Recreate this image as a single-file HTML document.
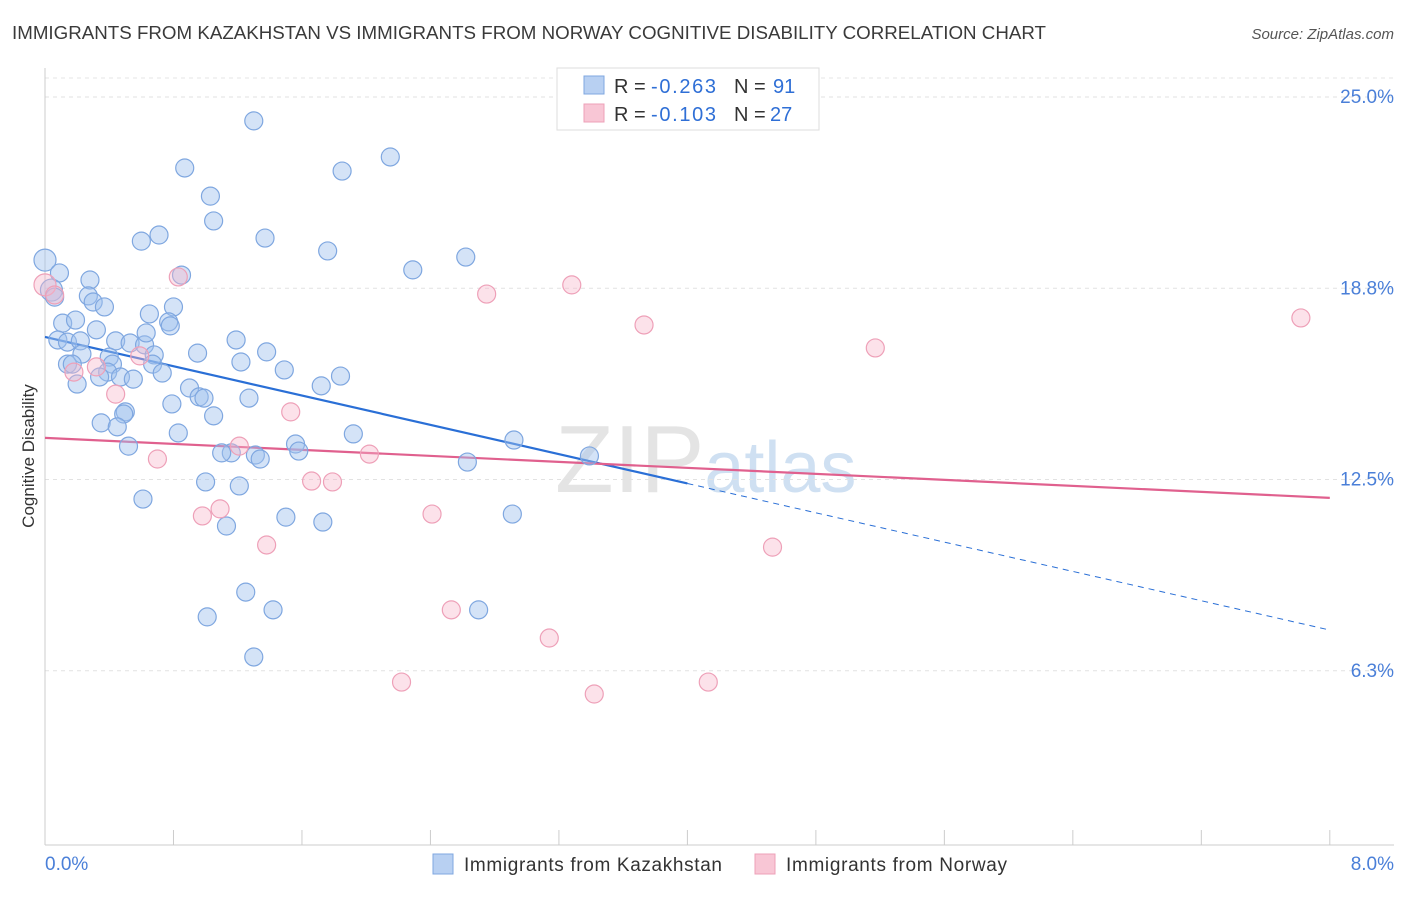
<!DOCTYPE html>
<html><head><meta charset="utf-8"><style>
body{margin:0;background:#fff;font-family:"Liberation Sans",sans-serif;}
svg text{font-family:"Liberation Sans",sans-serif;}
</style></head><body>
<svg id="chart" width="1406" height="892" xmlns="http://www.w3.org/2000/svg">
<text x="12" y="39" font-size="18" fill="#3a3a3a" textLength="1034" lengthAdjust="spacingAndGlyphs">IMMIGRANTS FROM KAZAKHSTAN VS IMMIGRANTS FROM NORWAY COGNITIVE DISABILITY CORRELATION CHART</text>
<text x="1394" y="39" font-size="15" fill="#555" text-anchor="end" font-style="italic">Source: ZipAtlas.com</text>
<text x="555" y="492" font-size="96" fill="#e4e4e4" font-family="Liberation Serif">ZIP<tspan fill="#cfe0f2" font-family="Liberation Sans" font-size="72">atlas</tspan></text>
<g id="grid"></g>
<g id="ticks"></g>
<g id="trend"></g>
<g id="pts"></g>
<text transform="translate(34,456) rotate(-90)" font-size="17" fill="#333" text-anchor="middle">Cognitive Disability</text>
<text x="45" y="870" font-size="19" fill="#4a7fd8">0.0%</text>
<text x="1394" y="870" font-size="19" fill="#4a7fd8" text-anchor="end">8.0%</text>
<g>
<rect x="557" y="68" width="262" height="62" fill="#fff" stroke="#ddd"/>
<rect x="584" y="76" width="20" height="18" fill="#b8d0f2" stroke="#7fa7e0"/>
<rect x="584" y="104" width="20" height="18" fill="#f8c6d5" stroke="#eea0b8"/>
<text x="614" y="93" font-size="20" fill="#333">R =</text>
<text x="651" y="93" font-size="20" fill="#2f6fd6" textLength="65">-0.263</text>
<text x="734" y="93" font-size="20" fill="#333">N =</text>
<text x="773" y="93" font-size="20" fill="#2f6fd6">91</text>
<text x="614" y="121" font-size="20" fill="#333">R =</text>
<text x="651" y="121" font-size="20" fill="#2f6fd6" textLength="65">-0.103</text>
<text x="734" y="121" font-size="20" fill="#333">N =</text>
<text x="770" y="121" font-size="20" fill="#2f6fd6">27</text>
</g>
<g>
<rect x="433" y="854" width="20" height="20" fill="#b8d0f2" stroke="#7fa7e0"/>
<text x="464" y="871" font-size="19" fill="#333" textLength="258">Immigrants from Kazakhstan</text>
<rect x="755" y="854" width="20" height="20" fill="#f8c6d5" stroke="#eea0b8"/>
<text x="786" y="871" font-size="19" fill="#333" textLength="221">Immigrants from Norway</text>
</g>
</svg>
<script>
const yTicks=[25,18.75,12.5,6.25];
const yTickLabels=["25.0%","18.8%","12.5%","6.3%"];
const xTicks=[0,0.8,1.6,2.4,3.2,4.0,4.8,5.6,6.4,7.2,8.0];
const blueX=[0.00,0.09,0.04,0.06,0.28,0.27,0.30,0.37,0.11,0.19,0.08,0.14,0.22,0.32,0.44,0.23,0.40,0.14,0.17,0.42,0.39,0.34,0.47,0.55,0.20,0.53,0.62,0.63,0.65,0.80,0.77,0.78,0.68,0.67,0.73,0.95,1.19,1.22,1.38,1.49,1.72,1.84,0.90,0.96,0.99,0.79,1.05,1.27,0.50,0.49,0.35,0.45,0.52,0.83,1.16,1.10,1.31,1.34,1.56,1.58,1.92,2.63,2.92,3.39,1.00,1.21,0.61,1.13,1.50,1.73,2.91,1.25,1.42,1.01,2.70,1.30,1.30,0.87,1.85,2.15,1.03,1.05,0.60,0.71,1.37,1.76,2.29,2.62,0.85];
const blueY=[19.67,19.25,18.69,18.46,19.02,18.50,18.30,18.14,17.61,17.71,17.06,16.99,17.03,17.39,17.03,16.60,16.50,16.27,16.27,16.27,16.01,15.85,15.85,15.78,15.62,16.96,16.90,17.29,17.91,18.14,17.65,17.52,16.57,16.27,15.98,16.63,17.06,16.34,16.67,16.08,15.56,15.88,15.49,15.20,15.16,14.97,14.58,15.16,14.71,14.64,14.35,14.22,13.59,14.02,13.37,13.37,13.30,13.17,13.66,13.43,13.99,13.07,13.79,13.27,12.42,12.29,11.86,10.98,11.27,11.11,11.37,8.82,8.24,8.01,8.24,6.70,24.22,22.68,22.58,23.04,21.76,20.95,20.29,20.49,20.39,19.97,19.35,19.77,19.18];
const pinkX=[0.00,0.06,0.83,0.18,0.32,0.44,0.59,0.70,2.75,3.28,3.73,5.17,7.82,1.53,1.21,2.02,1.66,1.79,0.98,1.09,2.41,1.38,2.53,3.14,2.22,3.42,4.13,4.53];
const pinkY=[18.86,18.53,19.12,16.01,16.18,15.29,16.54,13.17,18.56,18.86,17.55,16.80,17.78,14.71,13.59,13.33,12.45,12.42,11.31,11.54,11.37,10.36,8.24,7.32,5.88,5.49,5.88,10.29];
const blueTrend=[17.16,7.58];
const pinkTrend=[13.86,11.90];
const blueSolidEnd=4.0;
const NS="http://www.w3.org/2000/svg";
const X=v=>45+v*160.6, Y=v=>97+(25-v)*30.6;
function mk(t,a,p){const e=document.createElementNS(NS,t);for(const k in a)e.setAttribute(k,a[k]);p.appendChild(e);return e;}
const grid=document.getElementById('grid'),ticks=document.getElementById('ticks'),trend=document.getElementById('trend'),pts=document.getElementById('pts');
let g0=mk('line',{x1:45,x2:1394,y1:78,y2:78,stroke:'#e6e6e6','stroke-dasharray':'4 4'},grid);


yTicks.forEach((v,i)=>{
 const l=mk('line',{x1:45,x2:1394,y1:Y(v),y2:Y(v),stroke:'#e2e2e2','stroke-dasharray':'4 4'},grid);
 
 
 const t=mk('text',{x:1394,y:Y(v)+6,'font-size':19,fill:'#4a7fd8','text-anchor':'end'},grid);
 t.textContent=yTickLabels[i];
 
 
});
const ax=mk('line',{x1:45,x2:1394,y1:845,y2:845,stroke:'#ccc'},ticks);


const ay=mk('line',{x1:45,x2:45,y1:68,y2:845,stroke:'#ccc'},ticks);


xTicks.forEach(v=>{const t=mk('line',{x1:X(v),x2:X(v),y1:830,y2:845,stroke:'#ccc'},ticks);
 
 });
function dot(x,y,fill,stroke,name){const c=mk('circle',{cx:X(x),cy:Y(y),r:x<0.05?11:9,fill:fill,stroke:stroke,'stroke-width':1.2},pts);
 
 }
blueX.forEach((x,i)=>dot(x,blueY[i],'rgba(160,192,238,0.45)','#7fa7e0','point-kazakhstan'));
pinkX.forEach((x,i)=>dot(x,pinkY[i],'rgba(247,182,202,0.4)','#eea0b8','point-norway'));
const by=x=>blueTrend[0]+(blueTrend[1]-blueTrend[0])*x/8;
const l1=mk('line',{x1:X(0),y1:Y(by(0)),x2:X(blueSolidEnd),y2:Y(by(blueSolidEnd)),stroke:'#2a6fd6','stroke-width':2.2},trend);


const l2=mk('line',{x1:X(blueSolidEnd),y1:Y(by(blueSolidEnd)),x2:X(8),y2:Y(by(8)),stroke:'#2a6fd6','stroke-width':1,'stroke-dasharray':'6 5'},trend);


const l3=mk('line',{x1:X(0),y1:Y(pinkTrend[0]),x2:X(8),y2:Y(pinkTrend[1]),stroke:'#e0608e','stroke-width':2.2},trend);


</script>
</body></html>
